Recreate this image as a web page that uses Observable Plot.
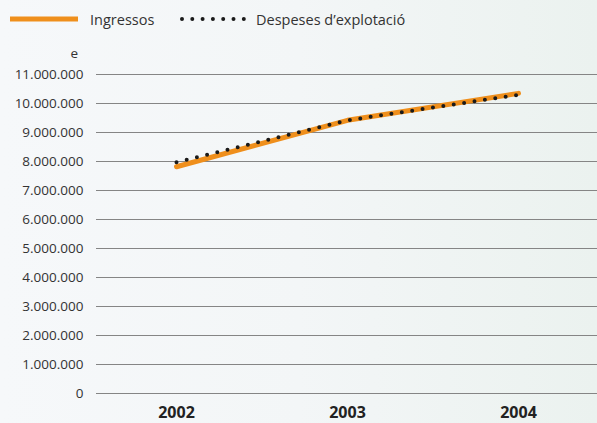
<!DOCTYPE html>
<html>
<head>
<meta charset="utf-8">
<script src="https://cdn.jsdelivr.net/npm/d3@7"></script>
<script src="https://cdn.jsdelivr.net/npm/@observablehq/plot@0.6"></script>
<style>
  html, body { margin: 0; padding: 0; }
  body {
    width: 597px; height: 423px; overflow: hidden;
    background: linear-gradient(to right, #f6f8fa 0%, #f3f6f7 50%, #ebf2ef 100%);
    font-family: "Open Sans", "Noto Sans", sans-serif; color: #333;
  }
  #legend { height: 40px; position: relative; font-size: 14.5px; }
  #legend .item { position: absolute; top: 9px; display: flex; align-items: center; }
  #chart svg { display: block; background: transparent; overflow: visible; }
</style>
</head>
<body>
<div id="legend"></div>
<div id="chart"></div>
<script>
const years = ["2002", "2003", "2004"];
const ingressos = [7820000, 9420000, 10350000];
const despeses = [7970000, 9420000, 10300000];
const yTicks = [0, 1000000, 2000000, 3000000, 4000000, 5000000, 6000000, 7000000, 8000000, 9000000, 10000000, 11000000];
const seriesNames = ["Ingressos", "Despeses d’explotació"];
const unitLabel = "e";

const orange = "#ef8f1c";

const data = [];
years.forEach((y, i) => {
  data.push({year: y, value: ingressos[i], series: seriesNames[0]});
  data.push({year: y, value: despeses[i], series: seriesNames[1]});
});

const fmt = d3.formatLocale({decimal: ",", thousands: ".", grouping: [3], currency: ["", ""]}).format(",d");

// Legend
const legend = document.getElementById("legend");
legend.innerHTML = `
  <div class="item" style="left:10px">
    <svg width="70" height="20"><line x1="0" x2="68" y1="10" y2="10" stroke="${orange}" stroke-width="5"/></svg>
    <span style="margin-left:10px">${seriesNames[0]}</span>
  </div>
  <div class="item" style="left:180px">
    <svg width="76" height="20"><line x1="2" x2="74" y1="10" y2="10" stroke="#1a1a1a" stroke-width="4" stroke-linecap="round" stroke-dasharray="0 10.3"/></svg>
    <span style="margin-left:0px">${seriesNames[1]}</span>
  </div>`;

const chart = Plot.plot({
  width: 597,
  height: 383,
  marginLeft: 96,
  marginRight: 0,
  marginTop: 34,
  marginBottom: 30,
  style: {fontFamily: "'Open Sans', 'Noto Sans', sans-serif", color: "#333", background: "transparent", overflow: "visible"},
  x: {type: "point", domain: years, padding: 0.46, label: null},
  y: {domain: [0, 11000000], label: null},
  marks: [
    Plot.ruleY(yTicks, {stroke: "#858585", strokeWidth: 1.2}),
    Plot.axisY({ticks: yTicks, tickFormat: fmt, tickSize: 0, tickPadding: 13, fontSize: 13.5, label: null}),
    Plot.axisX({tickSize: 0, tickPadding: 13, fontSize: 16, fontWeight: "bold", fill: "#222", label: null}),
    Plot.line(data.filter(d => d.series === seriesNames[0]), {x: "year", y: "value", stroke: orange, strokeWidth: 5}),
    Plot.line(data.filter(d => d.series === seriesNames[1]), {x: "year", y: "value", stroke: "#1a1a1a", strokeWidth: 4, strokeLinecap: "round", strokeDasharray: "0 10.5"}),
    Plot.text([unitLabel], {frameAnchor: "top-left", dx: -26, dy: -26, fontSize: 13.5, fill: "#333"})
  ]
});
document.getElementById("chart").appendChild(chart);
</script>
</body>
</html>
